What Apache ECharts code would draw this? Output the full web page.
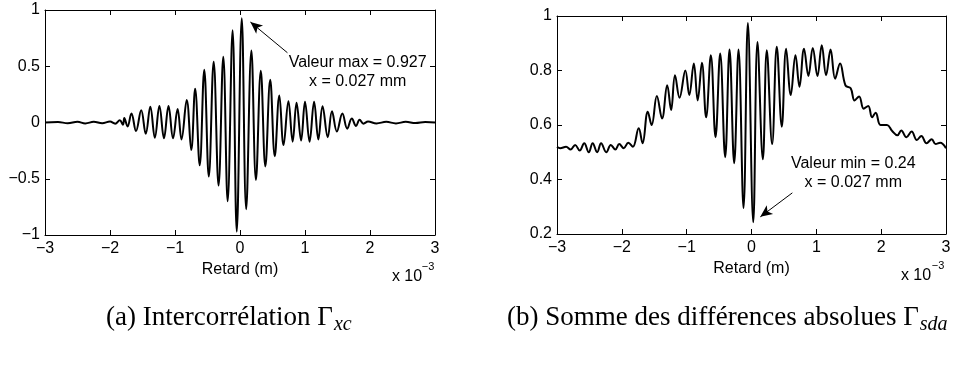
<!DOCTYPE html>
<html><head><meta charset="utf-8">
<script src="https://cdn.jsdelivr.net/npm/echarts@6/dist/echarts.min.js"></script>
<style>html,body{margin:0;padding:0;background:#fff}#c{width:955px;height:367px}</style>
</head><body><div id="c"></div>
<script>
// Panel (a): intercorrelation, x in units of 1e-3 m
const retardA = [-3,-2.8,-2.65,-2.5,-2.38,-2.25,-2.12,-2.0,-1.92,-1.85,-1.8,-1.78,-1.73,-1.67,-1.6,-1.52,-1.45,-1.38,-1.31,-1.24,-1.17,-1.1,-1.03,-0.96,-0.9,-0.82,-0.75,-0.69,-0.62,-0.55,-0.48,-0.405,-0.33,-0.257,-0.19,-0.114,-0.05,0.027,0.095,0.175,0.245,0.32,0.39,0.465,0.535,0.605,0.67,0.745,0.81,0.87,0.94,1.0,1.07,1.14,1.205,1.27,1.35,1.415,1.49,1.575,1.65,1.72,1.785,1.84,1.9,1.97,2.1,2.25,2.4,2.55,2.7,2.85,3];
const gammaXC = [0,0.004,-0.006,0.006,-0.008,0.006,-0.006,0.008,-0.01,0.02,-0.02,0.04,-0.035,0.08,-0.075,0.11,-0.1,0.14,-0.135,0.147,-0.14,0.147,-0.14,0.12,-0.15,0.2,-0.245,0.3,-0.38,0.47,-0.48,0.54,-0.56,0.585,-0.7,0.82,-0.97,0.927,-0.77,0.64,-0.51,0.46,-0.39,0.38,-0.3,0.24,-0.2,0.19,-0.17,0.175,-0.16,0.185,-0.17,0.185,-0.15,0.145,-0.13,0.1,-0.08,0.08,-0.055,0.035,-0.03,0.025,-0.01,0.008,-0.008,0.006,-0.008,0.006,-0.005,0.004,0];
// Panel (b): sum of absolute differences
const retardB = [-3,-2.95,-2.86,-2.79,-2.72,-2.65,-2.58,-2.51,-2.45,-2.38,-2.32,-2.24,-2.17,-2.1,-2.04,-1.97,-1.9,-1.83,-1.74,-1.68,-1.6,-1.54,-1.46,-1.38,-1.3,-1.24,-1.18,-1.11,-1.02,-0.96,-0.89,-0.83,-0.765,-0.7,-0.627,-0.555,-0.483,-0.406,-0.339,-0.267,-0.2,-0.123,-0.056,0.027,0.092,0.175,0.236,0.318,0.39,0.467,0.534,0.606,0.678,0.74,0.81,0.878,0.945,1.017,1.084,1.15,1.22,1.29,1.366,1.45,1.53,1.59,1.66,1.73,1.8,1.86,1.915,1.99,2.09,2.17,2.25,2.31,2.39,2.47,2.55,2.62,2.7,2.78,2.84,2.91,3];
const gammaSDA = [0.52,0.515,0.52,0.51,0.527,0.506,0.533,0.5,0.533,0.5,0.533,0.5,0.527,0.51,0.53,0.515,0.535,0.52,0.588,0.533,0.649,0.6,0.706,0.624,0.746,0.655,0.783,0.7,0.8,0.71,0.826,0.69,0.828,0.628,0.856,0.555,0.862,0.482,0.877,0.46,0.877,0.295,0.974,0.243,0.905,0.474,0.874,0.53,0.887,0.594,0.88,0.71,0.856,0.74,0.88,0.78,0.883,0.78,0.893,0.783,0.877,0.77,0.826,0.745,0.735,0.69,0.705,0.66,0.67,0.628,0.645,0.6,0.6,0.578,0.562,0.58,0.555,0.576,0.545,0.56,0.533,0.548,0.53,0.535,0.515];
const xTicks = {min:-3, max:3, step:1};
const yTicksA = {min:-1, max:1, step:0.5};
const yTicksB = {min:0.2, max:1, step:0.2};

const FONT = '"Liberation Sans", Arial, Helvetica, sans-serif';
const SERIF = '"Liberation Serif", "Times New Roman", serif';
const FS = 16;
const fmt = v => String(+v.toFixed(2)).replace('-', '\u2212');
const tickStyle = {inside:true, length:5, lineStyle:{color:'#000', width:1}};
const axLine = {onZero:false, lineStyle:{color:'#000', width:1}};

function xAx(g, main){
  return {gridIndex:g, type:'value', min:xTicks.min, max:xTicks.max, interval:xTicks.step,
    position: main ? 'bottom' : 'top',
    axisLine:axLine, axisTick:tickStyle, splitLine:{show:false},
    axisLabel: main ? {color:'#000', fontSize:FS, fontFamily:FONT, margin:6, formatter:fmt} : {show:false},
    name: main ? 'Retard (m)' : '', nameLocation:'middle', nameGap:27,
    nameTextStyle:{color:'#000', fontSize:FS, fontFamily:FONT}};
}
function yAx(g, t, main){
  return {gridIndex:g, type:'value', min:t.min, max:t.max, interval:t.step,
    position: main ? 'left' : 'right',
    axisLine:axLine, axisTick:tickStyle, splitLine:{show:false},
    axisLabel: main ? {color:'#000', fontSize:FS, fontFamily:FONT, margin:5, formatter:fmt} : {show:false}};
}
const arrowML = (from, to) => ({silent:true, symbol:['none','arrow'], symbolSize:[8,12],
  lineStyle:{color:'#000', width:1, type:'solid'}, label:{show:false}, emphasis:{disabled:true},
  data:[[{coord:from},{coord:to}]]});

const chart = echarts.init(document.getElementById('c'), null, {renderer:'canvas'});
chart.setOption({
  backgroundColor:'#fff',
  animation:false,
  grid:[
    {left:45, top:10, width:390, height:225},
    {left:557, top:16, width:389, height:218}
  ],
  xAxis:[xAx(0,true), xAx(0,false), xAx(1,true), xAx(1,false)],
  yAxis:[yAx(0,yTicksA,true), yAx(0,yTicksA,false), yAx(1,yTicksB,true), yAx(1,yTicksB,false)],
  series:[
    {type:'line', xAxisIndex:0, yAxisIndex:0, showSymbol:false, smooth:0.4,
     lineStyle:{color:'#000', width:2}, data: retardA.map((x,i)=>[x, gammaXC[i]]),
     markLine: arrowML([0.73,0.62],[0.16,0.893])},
    {type:'line', xAxisIndex:2, yAxisIndex:2, showSymbol:false, smooth:0.4,
     lineStyle:{color:'#000', width:2}, data: retardB.map((x,i)=>[x, gammaSDA[i]]),
     markLine: arrowML([0.63,0.351],[0.136,0.263])}
  ]
});

const pA = chart.convertToPixel({xAxisIndex:0, yAxisIndex:0}, [1.81, 0.53]);
const pA2 = chart.convertToPixel({xAxisIndex:0, yAxisIndex:0}, [1.81, 0.36]);
const pB = chart.convertToPixel({xAxisIndex:2, yAxisIndex:2}, [1.57, 0.457]);
const pB2 = chart.convertToPixel({xAxisIndex:2, yAxisIndex:2}, [1.57, 0.388]);
const txt = (x, y, s, extra) => Object.assign({type:'text', x, y, silent:true,
  style:Object.assign({text:s, fill:'#000', font:FS + 'px ' + FONT, align:'center', verticalAlign:'middle'}, extra||{})});
const capRich = {s:{font:'italic 20px ' + SERIF, fill:'#000', padding:[14,0,0,1]}};
chart.setOption({graphic:[
  txt(pA[0], pA[1], 'Valeur max = 0.927', {backgroundColor:'#fff'}),
  txt(pA2[0], pA2[1], 'x = 0.027 mm'),
  txt(pB[0], pB[1], 'Valeur min = 0.24'),
  txt(pB2[0], pB2[1], 'x = 0.027 mm'),
  txt(407, 277, 'x 10'),
  txt(428, 267, '\u22123', {font:'11px ' + FONT}),
  txt(916, 276, 'x 10'),
  txt(938, 266, '\u22123', {font:'11px ' + FONT}),
  {type:'text', x:106, y:318, silent:true, style:{text:'(a) Intercorrélation \u0393{s|xc}', fill:'#000',
    font:'27px ' + SERIF, verticalAlign:'middle', rich:capRich}},
  {type:'text', x:507, y:318, silent:true, style:{text:'(b) Somme des différences absolues \u0393{s|sda}', fill:'#000',
    font:'27px ' + SERIF, verticalAlign:'middle', rich:capRich}}
]});
</script>
</body></html>
